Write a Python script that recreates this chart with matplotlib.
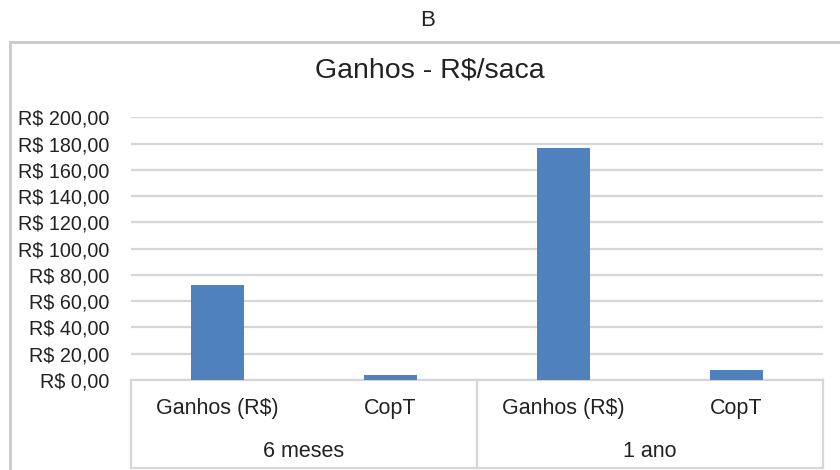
import matplotlib.pyplot as plt
from matplotlib.patches import Rectangle
from matplotlib.ticker import FuncFormatter, MultipleLocator
import matplotlib.transforms as mtransforms

plt.rcParams['font.family'] = ['Liberation Sans', 'DejaVu Sans']
plt.rcParams['text.parse_math'] = False

# dados do gráfico
periodos = ['6 meses', '1 ano']
itens = ['Ganhos (R$)', 'CopT']
ganhos_6m = [72.3, 3.8]
ganhos_1a = [176.5, 7.5]

valores = ganhos_6m + ganhos_1a
rotulos = itens * len(periodos)
x = list(range(len(valores)))

fig = plt.figure(figsize=(8.4, 4.7), dpi=100)
ax = fig.add_axes([131 / 840, 90 / 470, 692 / 840, 262.7 / 470])

ax.bar(x, valores, width=0.31, color='#4f81bd', zorder=3)
ax.set_xlim(-0.5, len(valores) - 0.5)
ax.set_ylim(0, 200)
ax.yaxis.set_major_locator(MultipleLocator(20))
ax.yaxis.set_major_formatter(FuncFormatter(
    lambda v, p: 'R$ ' + f'{v:,.2f}'.replace(',', 'X').replace('.', ',').replace('X', '.')))
ax.tick_params(axis='y', length=0, pad=15.5, labelsize=14.2, labelcolor='#222222')
ax.tick_params(axis='x', length=0, labelbottom=False)
ax.grid(axis='y', color='#d4d6da', linewidth=1.6, zorder=0)
for s in ['left', 'right', 'top']:
    ax.spines[s].set_visible(False)
ax.spines['bottom'].set_color('#d4d6da')
ax.spines['bottom'].set_linewidth(1.6)

# eixo de categorias em dois níveis
trans = mtransforms.blended_transform_factory(ax.transData, ax.transAxes)
y_base = -0.335
linha = dict(color='#d4d6da', linewidth=1.6, transform=trans, clip_on=False)
ax.plot([-0.5, -0.5], [0, y_base], **linha)
ax.plot([1.5, 1.5], [0, y_base], **linha)
ax.plot([3.5, 3.5], [0, y_base], **linha)
ax.plot([-0.5, 3.5], [y_base, y_base], **linha)

for xi, r in zip(x, rotulos):
    ax.text(xi, -0.107, r, transform=trans, ha='center', va='center',
            fontsize=15.5, color='#222222')
for i, p in enumerate(periodos):
    ax.text(0.5 + 2 * i, -0.274, p, transform=trans, ha='center', va='center',
            fontsize=15.5, color='#222222')

# moldura externa e títulos
fig.patches.append(Rectangle((10 / 840, -0.05), 1.0, (470 - 42) / 470 + 0.05,
                             transform=fig.transFigure, fill=False,
                             edgecolor='#c8c9cc', linewidth=2))
fig.text(430 / 840, 1 - 70 / 470, 'Ganhos - R$/saca', ha='center', va='center',
         fontsize=20.5, color='#222222')
fig.text(428 / 840, 1 - 20 / 470, 'B', ha='center', va='center',
         fontsize=16, color='#222222')

fig.savefig('out.png', dpi=100)
